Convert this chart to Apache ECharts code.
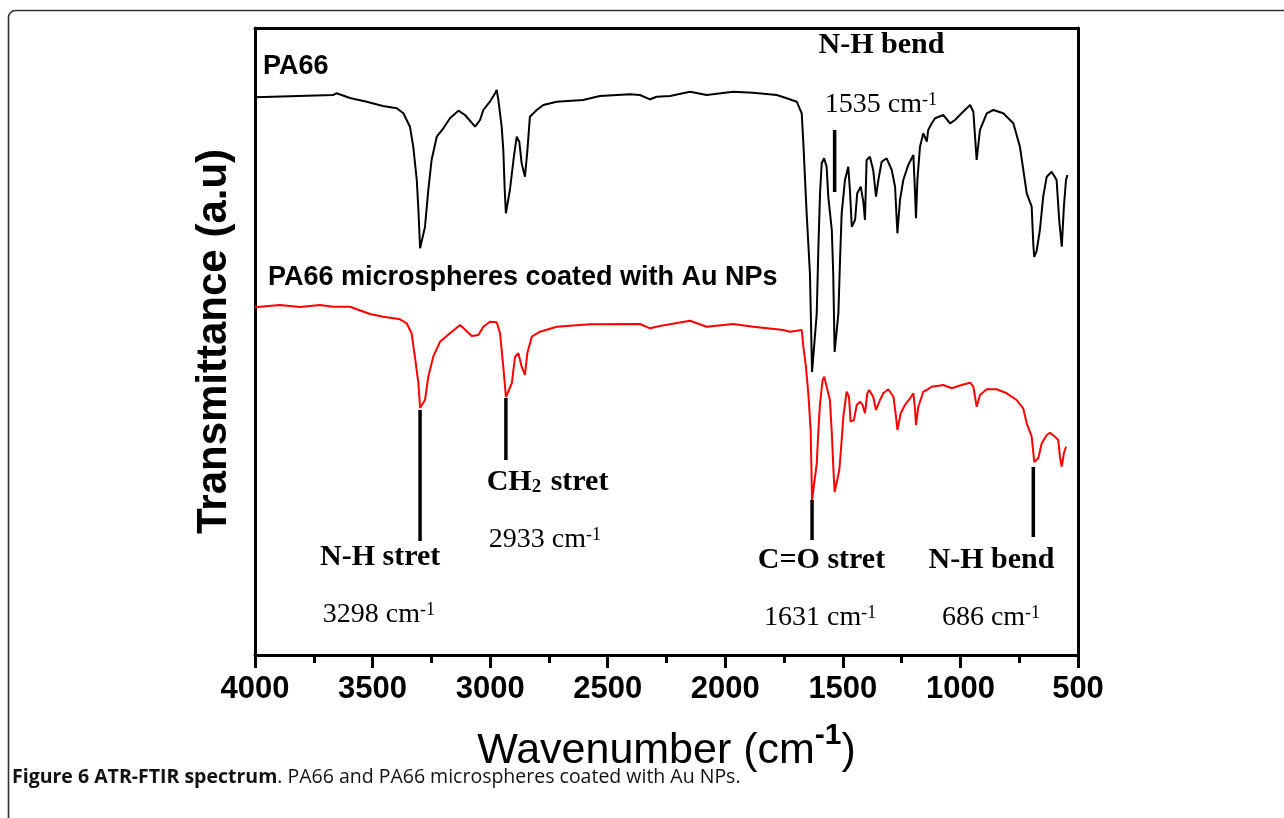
<!DOCTYPE html>
<html>
<head>
<meta charset="utf-8">
<script src="https://cdn.jsdelivr.net/npm/echarts@6/dist/echarts.min.js"></script>
<style>
  html, body { margin: 0; padding: 0; background: #fff; }
  #chart { width: 1284px; height: 818px; }
</style>
</head>
<body>
<div id="chart"></div>
<script>
// ---------- DATA (y = transmittance in arbitrary units) ----------
const pa66Wavenumber = [4000,3668,3653,3596,3525,3456,3397,3369,3341,3327,3312,3305,3298,3277,3263,3249,3227,3199,3171,3135,3107,3064,3043,3029,3001,2979,2972,2965,2951,2944,2938,2933,2916,2899,2887,2876,2866,2852,2842,2831,2802,2774,2717,2605,2533,2405,2363,2320,2292,2235,2150,2079,1967,1882,1781,1739,1696,1675,1668,1654,1640,1631,1611,1604,1597,1590,1580,1569,1562,1547,1541,1535,1519,1512,1505,1491,1477,1470,1462,1448,1439,1424,1413,1406,1399,1385,1371,1359,1349,1335,1314,1292,1278,1268,1257,1243,1222,1200,1193,1189,1183,1172,1158,1143,1137,1122,1108,1073,1044,1023,995,959,945,931,917,888,860,818,775,747,718,697,690,686,676,662,648,633,612,591,580,569,560,551,545];
const pa66Transmittance = [557.7,560,561.7,557,553.3,549,546.7,541.7,528.3,508.3,475,445,406.7,428.3,465,495,518.3,526.7,536.7,544.3,540,528.3,535,545,553.3,561.7,565,555,528.3,505,465,441.7,465,498.3,518.3,513.3,491.7,478.3,503.3,538.3,545,550,553.3,555,559,560.7,560,555.7,558.3,559,563.3,560,563.3,562.3,560,556.7,553.3,541.7,511.7,441.7,381.7,283,341.7,408.3,461.7,491.7,496.7,488.3,458.3,425,381.7,303,341.7,395,441.7,475,488.3,465,428.3,435,461.7,468.3,453.3,435,495,498.3,485,458.3,475,493.3,496.7,485,468.3,421.7,455,475,490,500,461.7,436.7,475,508.3,521.7,513.3,525,531.7,536.7,540,531.7,535,541.7,550,543.3,495,525,541.7,545,541.7,531.7,508.3,461.7,448.3,410,398,404,425,458.3,478.3,483.3,475,435,408.3,448.3,475,480];

const auWavenumber = [4000,3894,3809,3724,3668,3596,3567,3511,3454,3383,3355,3334,3320,3305,3298,3277,3263,3242,3213,3171,3128,3078,3050,3029,3001,2972,2958,2944,2933,2908,2894,2880,2866,2852,2842,2823,2788,2717,2575,2363,2320,2278,2150,2079,1966,1881,1753,1725,1675,1668,1657,1647,1637,1631,1611,1604,1597,1586,1579,1569,1555,1547,1540,1535,1515,1505,1498,1484,1474,1467,1453,1441,1427,1416,1406,1396,1388,1371,1359,1342,1328,1307,1285,1274,1268,1254,1236,1214,1200,1193,1189,1179,1158,1143,1122,1073,1037,995,959,945,931,917,888,846,803,761,733,718,697,686,669,654,633,619,598,584,577,569,560,551];
const auTransmittance = [347.7,350,348,350,348.3,348.3,345.7,341,338.3,335.7,331.7,321.7,298.3,271.7,247,255,278.3,298.3,313.3,321.7,330,319,320,328.3,333.3,332.7,321.7,288.3,258,271.7,298.3,301.7,288.3,280,301.7,318.3,323.3,328.3,330.7,331,326.7,329,334.3,328.3,331,328.3,325,323.3,325,308.3,288.3,261.7,225,155,191.7,225,251.7,275,278.3,268.3,255,221.7,185,163,185,215,238.3,263.3,258.3,233.3,235,250,253.3,250,241.7,261.7,265,258.3,245,255,261.7,265.7,258.3,238.3,225,241.7,250,256.7,261.7,245,230,248.3,263.3,265,268.3,270,266.7,270,272.3,268.3,248.3,260,265.7,265.7,261.7,255,246.7,231.7,218.3,193,196.7,211.7,220,222.3,218.3,215,198.3,188.3,201.7,208.3];

const seriesNames = ['PA66', 'PA66 microspheres coated with Au NPs'];
const seriesLabelWavenumber = [3966, 3945];
const seriesLabelY = [588, 377];

// peak marker bars: wavenumber, from, to
const markWavenumber = [3298, 2933, 1631, 1535, 690];
const markFrom = [245, 257, 155, 525, 188];
const markTo = [114, 195, 115, 463, 118];

// peak annotations
const bandNames = ['N-H stret', 'CH₂ stret', 'C=O stret', 'N-H bend', 'N-H bend'];
const bandValues = ['3298', '2933', '1631', '686', '1535'];
const bandNameWavenumber = [3468, 2756, 1591, 868, 1336];
const bandNameY = [98, 173, 95, 95, 610];
const bandValueWavenumber = [3473, 2767, 1597, 870, 1338];
const bandValueY = [40, 115, 37, 37, 550];

const xTickMin = 500, xTickMax = 4000, xTickStep = 500;

// ---------- CHART ----------
const chart = echarts.init(document.getElementById('chart'), null, { renderer: 'canvas' });
const serif = '"Times New Roman", "Liberation Serif", serif';
const sans = 'Arial, "Liberation Sans", sans-serif';

const zip = (a, b) => a.map((v, i) => [v, b[i]]);

const markSeries = markWavenumber.map((w, i) => ({
  type: 'line', silent: true, showSymbol: false, symbol: 'none',
  data: [[w, markFrom[i]], [w, markTo[i]]],
  lineStyle: { color: '#000', width: 3.5 }, z: 3
}));

const bandNameData = bandNames.map((t, i) => ({
  value: [bandNameWavenumber[i], bandNameY[i]],
  label: { formatter: '{b|' + t.replace('₂', '}{sub|2}{b|') + '}' }
}));
const bandValueData = bandValues.map((t, i) => ({
  value: [bandValueWavenumber[i], bandValueY[i]],
  label: { formatter: '{n|' + t + ' cm}{sup|-1}' }
}));

const richText = {
  b: { fontFamily: serif, fontWeight: 'bold', fontSize: 30, color: '#000' },
  sub: { fontFamily: serif, fontWeight: 'bold', fontSize: 19, color: '#000', verticalAlign: 'bottom', padding: [0, 2, 0, 0] },
  n: { fontFamily: serif, fontWeight: 'normal', fontSize: 28, color: '#000' },
  sup: { fontFamily: serif, fontWeight: 'normal', fontSize: 18, color: '#000', verticalAlign: 'top', padding: [0, 0, 10, 0] }
};
const plainLabel = { show: true, color: '#000', opacity: 1, textBorderWidth: 0, textBorderColor: 'transparent', textShadowBlur: 0 };

const option = {
  animation: false,
  backgroundColor: '#fff',
  title: {
    left: 12, top: 767, padding: 0,
    text: '{b|Figure 6 ATR-FTIR spectrum}{n|. PA66 and PA66 microspheres coated with Au NPs.}',
    textStyle: {
      rich: {
        b: { fontFamily: '"Open Sans", sans-serif', fontWeight: 'bold', fontSize: 19.5, color: '#111' },
        n: { fontFamily: '"Open Sans", sans-serif', fontWeight: 'normal', fontSize: 19.5, color: '#111' }
      }
    }
  },
  graphic: [{
    type: 'rect', silent: true,
    shape: { x: 8.5, y: 10.5, width: 1400, height: 1000, r: 7 },
    style: { fill: null, stroke: '#333', lineWidth: 1.6 }
  }],
  grid: { left: 255, right: 206, top: 28, bottom: 163, containLabel: false },
  xAxis: [{
    type: 'value', inverse: true, min: xTickMin, max: xTickMax, interval: xTickStep, position: 'bottom',
    axisLine: { show: true, onZero: false, lineStyle: { color: '#000', width: 3 } },
    axisTick: { show: true, inside: false, length: 13, lineStyle: { color: '#000', width: 3 } },
    minorTick: { show: true, splitNumber: 2, length: 8, lineStyle: { color: '#000', width: 3 } },
    splitLine: { show: false }, minorSplitLine: { show: false },
    axisLabel: { color: '#000', fontFamily: sans, fontWeight: 'bold', fontSize: 31, margin: 19, formatter: v => String(v) },
    name: '{t|Wavenumber (cm}{s|-1}{t|)}', nameLocation: 'middle', nameGap: 66,
    nameTextStyle: {
      rich: {
        t: { fontFamily: sans, fontWeight: 'normal', fontSize: 43, lineHeight: 60, color: '#000' },
        s: { fontFamily: sans, fontWeight: 'bold', fontSize: 30, lineHeight: 30, color: '#000', verticalAlign: 'top' }
      }
    }
  }, {
    type: 'value', inverse: true, min: xTickMin, max: xTickMax, position: 'top',
    axisLine: { show: true, onZero: false, lineStyle: { color: '#000', width: 3 } },
    axisTick: { show: false }, axisLabel: { show: false }, splitLine: { show: false }
  }],
  yAxis: [{
    type: 'value', min: 0, max: 627, position: 'left',
    axisLine: { show: true, onZero: false, lineStyle: { color: '#000', width: 3 } },
    axisTick: { show: false }, axisLabel: { show: false }, splitLine: { show: false },
    name: 'Transmittance (a.u)', nameLocation: 'middle', nameGap: 20,
    nameTextStyle: { fontFamily: sans, fontWeight: 'bold', fontSize: 42, color: '#000' }
  }, {
    type: 'value', min: 0, max: 627, position: 'right',
    axisLine: { show: true, onZero: false, lineStyle: { color: '#000', width: 3 } },
    axisTick: { show: false }, axisLabel: { show: false }, splitLine: { show: false }
  }],
  series: [
    ...markSeries,
    {
      name: seriesNames[0], type: 'line', data: zip(pa66Wavenumber, pa66Transmittance),
      showSymbol: false, symbol: 'none', lineStyle: { color: '#000', width: 2 }, z: 4, silent: true
    },
    {
      name: seriesNames[1], type: 'line', data: zip(auWavenumber, auTransmittance),
      showSymbol: false, symbol: 'none', lineStyle: { color: '#ff0000', width: 2 }, z: 4, silent: true
    },
    {
      type: 'scatter', symbolSize: 0, silent: true, z: 5, itemStyle: { opacity: 1 },
      data: seriesNames.map((n, i) => ({ value: [seriesLabelWavenumber[i], seriesLabelY[i]], label: { formatter: n } })),
      label: Object.assign({}, plainLabel, { position: 'right', distance: 0, fontFamily: sans, fontWeight: 'bold', fontSize: 27 })
    },
    {
      type: 'scatter', symbolSize: 0, silent: true, z: 5, itemStyle: { opacity: 1 },
      data: bandNameData,
      label: Object.assign({}, plainLabel, { position: 'inside', rich: richText })
    },
    {
      type: 'scatter', symbolSize: 0, silent: true, z: 5, itemStyle: { opacity: 1 },
      data: bandValueData,
      label: Object.assign({}, plainLabel, { position: 'inside', rich: richText })
    }
  ]
};
chart.setOption(option);
</script>
</body>
</html>
